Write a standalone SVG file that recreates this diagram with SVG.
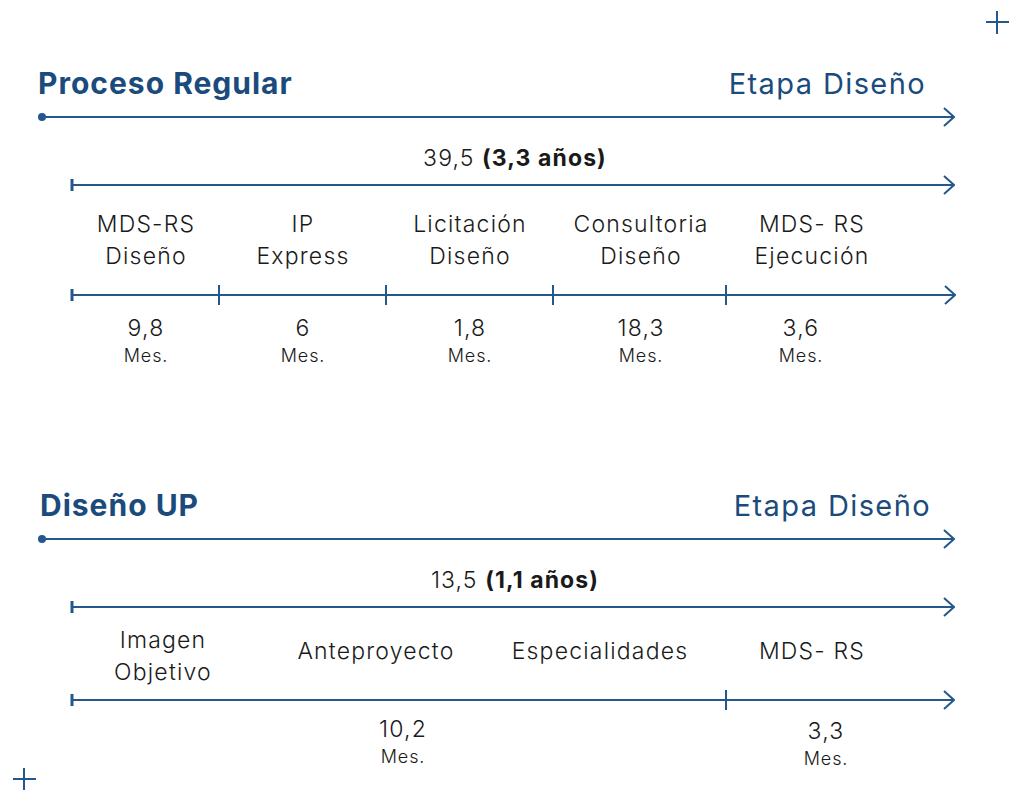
<svg xmlns="http://www.w3.org/2000/svg" width="1009" height="790" viewBox="0 0 1009 790">
<defs>
<marker id="arr" viewBox="0 0 12 20" refX="11" refY="10" markerWidth="12" markerHeight="20" markerUnits="userSpaceOnUse" orient="auto">
<path d="M1,1 L11,10 L1,19" fill="none" stroke="#24578c" stroke-width="2"/>
</marker>
<style>
.ln{stroke:#24578c;stroke-width:2.2;fill:none}
.tk{stroke:#24578c;stroke-width:2;fill:none}
.st{stroke:#24578c;stroke-width:3;fill:none}
.ttl{font-family:Inter,"Liberation Sans",sans-serif;font-weight:700;font-size:30px;letter-spacing:1px;fill:#1b4b7d}
.stg{font-family:Inter,"Liberation Sans",sans-serif;font-weight:400;font-size:29px;letter-spacing:1.4px;fill:#1b4b7d}
.lb{font-family:Inter,"Liberation Sans",sans-serif;font-weight:300;font-size:23px;letter-spacing:1.2px;fill:#1a1a1a;text-anchor:middle}
.ms{font-family:Inter,"Liberation Sans",sans-serif;font-weight:300;font-size:18px;letter-spacing:0.9px;fill:#1a1a1a;text-anchor:middle}
.tot{font-family:Inter,"Liberation Sans",sans-serif;font-weight:300;font-size:23px;letter-spacing:1.1px;fill:#1a1a1a;text-anchor:middle}
</style>
</defs>
<g id="crosses">
<path class="tk" d="M997,11 V34 M986,22 H1009"/>
<path class="tk" d="M24,768 V790 M13,779 H36"/>
</g>
<g id="connectors">
<circle cx="42" cy="117" r="4" fill="#24578c"/>
<line class="ln" x1="42" y1="117" x2="954" y2="117" marker-end="url(#arr)"/>
<line class="ln" x1="72" y1="185" x2="954" y2="185" marker-end="url(#arr)"/>
<line class="st" x1="72" y1="179" x2="72" y2="191"/>
<line class="ln" x1="72" y1="295" x2="955" y2="295" marker-end="url(#arr)"/>
<line class="st" x1="72" y1="289" x2="72" y2="301"/>
<path class="tk" d="M219,285 V305 M386,285 V305 M553,285 V305 M726,285 V305"/>
<circle cx="42" cy="539" r="4" fill="#24578c"/>
<line class="ln" x1="42" y1="539" x2="954" y2="539" marker-end="url(#arr)"/>
<line class="ln" x1="72" y1="607" x2="954" y2="607" marker-end="url(#arr)"/>
<line class="st" x1="72" y1="601" x2="72" y2="613"/>
<line class="ln" x1="72" y1="700" x2="954" y2="700" marker-end="url(#arr)"/>
<line class="st" x1="72" y1="694" x2="72" y2="706"/>
<path class="tk" d="M726,690 V710"/>
</g>
<g id="header-regular">
<text class="ttl" x="38" y="94">Proceso Regular</text>
<text class="stg" x="926" y="94" text-anchor="end">Etapa Diseño</text>
<text class="tot" x="515" y="166">39,5 <tspan font-weight="700">(3,3 años)</tspan></text>
</g>
<g id="n-mdsrs-diseno">
<text class="lb" x="146" y="232">MDS-RS</text>
<text class="lb" x="146" y="264">Diseño</text>
<text class="lb" x="146" y="336">9,8</text>
<text class="ms" x="146" y="362">Mes.</text>
</g>
<g id="n-ip-express">
<text class="lb" x="303" y="232">IP</text>
<text class="lb" x="303" y="264">Express</text>
<text class="lb" x="303" y="336">6</text>
<text class="ms" x="303" y="362">Mes.</text>
</g>
<g id="n-licitacion">
<text class="lb" x="470" y="232">Licitación</text>
<text class="lb" x="470" y="264">Diseño</text>
<text class="lb" x="470" y="336">1,8</text>
<text class="ms" x="470" y="362">Mes.</text>
</g>
<g id="n-consultoria">
<text class="lb" x="641" y="232">Consultoria</text>
<text class="lb" x="641" y="264">Diseño</text>
<text class="lb" x="641" y="336">18,3</text>
<text class="ms" x="641" y="362">Mes.</text>
</g>
<g id="n-mdsrs-ejecucion">
<text class="lb" x="812" y="232">MDS- RS</text>
<text class="lb" x="812" y="264">Ejecución</text>
<text class="lb" x="801" y="336">3,6</text>
<text class="ms" x="801" y="362">Mes.</text>
</g>
<g id="header-up">
<text class="ttl" x="40" y="516">Diseño UP</text>
<text class="stg" x="931" y="516" text-anchor="end">Etapa Diseño</text>
<text class="tot" x="515" y="588">13,5 <tspan font-weight="700">(1,1 años)</tspan></text>
</g>
<g id="n-imagen">
<text class="lb" x="163" y="648">Imagen</text>
<text class="lb" x="163" y="680">Objetivo</text>
</g>
<g id="n-anteproyecto">
<text class="lb" x="376" y="659">Anteproyecto</text>
</g>
<g id="n-especialidades">
<text class="lb" x="600" y="659">Especialidades</text>
</g>
<g id="n-mdsrs-up">
<text class="lb" x="812" y="659">MDS- RS</text>
</g>
<g id="n-values-up">
<text class="lb" x="403" y="737">10,2</text>
<text class="ms" x="403" y="763">Mes.</text>
<text class="lb" x="826" y="739">3,3</text>
<text class="ms" x="826" y="765">Mes.</text>
</g>
</svg>
